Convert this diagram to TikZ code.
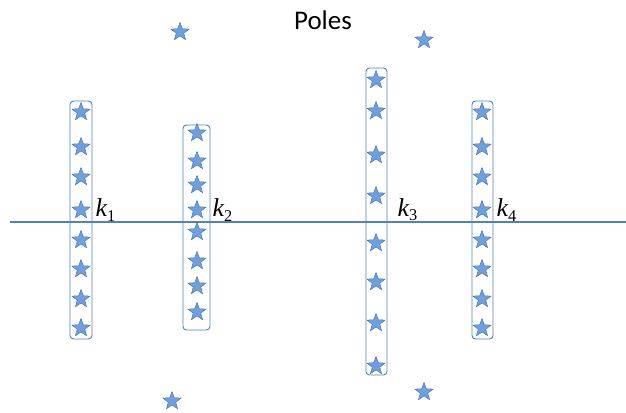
\documentclass[tikz,border=0pt]{standalone}
\usepackage{fontspec}
\newfontfamily\calibri{Carlito}
\newfontfamily\timesf{Liberation Serif}
\usetikzlibrary{shapes.geometric}
\definecolor{poleblue}{RGB}{79,129,189}
\definecolor{starfill}{RGB}{110,160,225}
\newcommand{\kname}[1]{{\timesf\itshape k}{\timesf\raisebox{-0.35ex}{\fontsize{14}{16}\selectfont #1}}}
\tikzset{
  pole/.style={star, star points=5, star point ratio=2.4, minimum size=0.57cm,
    inner sep=0pt, fill=starfill, draw=poleblue!90!black, line width=0.4pt},
  colbox/.style={draw=poleblue, line width=0.8pt, rounded corners=3pt},
  klabel/.style={font=\fontsize{22}{24}\selectfont, anchor=west, inner sep=2pt}
}
\begin{document}
\begin{tikzpicture}[x=0.03cm,y=-0.03cm]
\useasboundingbox (0,0) rectangle (626,412);
\draw (323,20) node[font=\calibri\fontsize{23}{27}\selectfont] (title) {Poles};

% axis
\coordinate (axl) at (10,222);
\coordinate (axr) at (626,222);
\draw [poleblue, line width=1.3pt] (axl) -- (axr);

% k1
\draw [colbox] (70,101) rectangle (92,339);
\foreach \y [count=\i] in {112,147,177,210,240,269,299,328}
  \draw (81,\y) node[pole] (a\i) {};
\draw (93,210) node[klabel] (k1) {\kname{1}};

% k2
\draw [colbox] (183,125) rectangle (210,330);
\foreach \y [count=\i] in {133,161,185,210,232,261,286,312}
  \draw (197,\y) node[pole] (b\i) {};
\draw (210,210) node[klabel] (k2) {\kname{2}};

% k3
\draw [colbox] (366,68) rectangle (387,375);
\foreach \y [count=\i] in {80,111,155,196,243,282,323,366}
  \draw (376,\y) node[pole] (c\i) {};
\draw (395,210) node[klabel] (k3) {\kname{3}};

% k4
\draw [colbox] (472,101) rectangle (493,339);
\foreach \y [count=\i] in {112,147,177,210,240,269,299,328}
  \draw (482,\y) node[pole] (d\i) {};
\draw (494,210) node[klabel] (k4) {\kname{4}};

% stray poles
\draw (180,32) node[pole] (p1) {};
\draw (424,40) node[pole] (p2) {};
\draw (172,401) node[pole] (p3) {};
\draw (424,392) node[pole] (p4) {};
\end{tikzpicture}
\end{document}
